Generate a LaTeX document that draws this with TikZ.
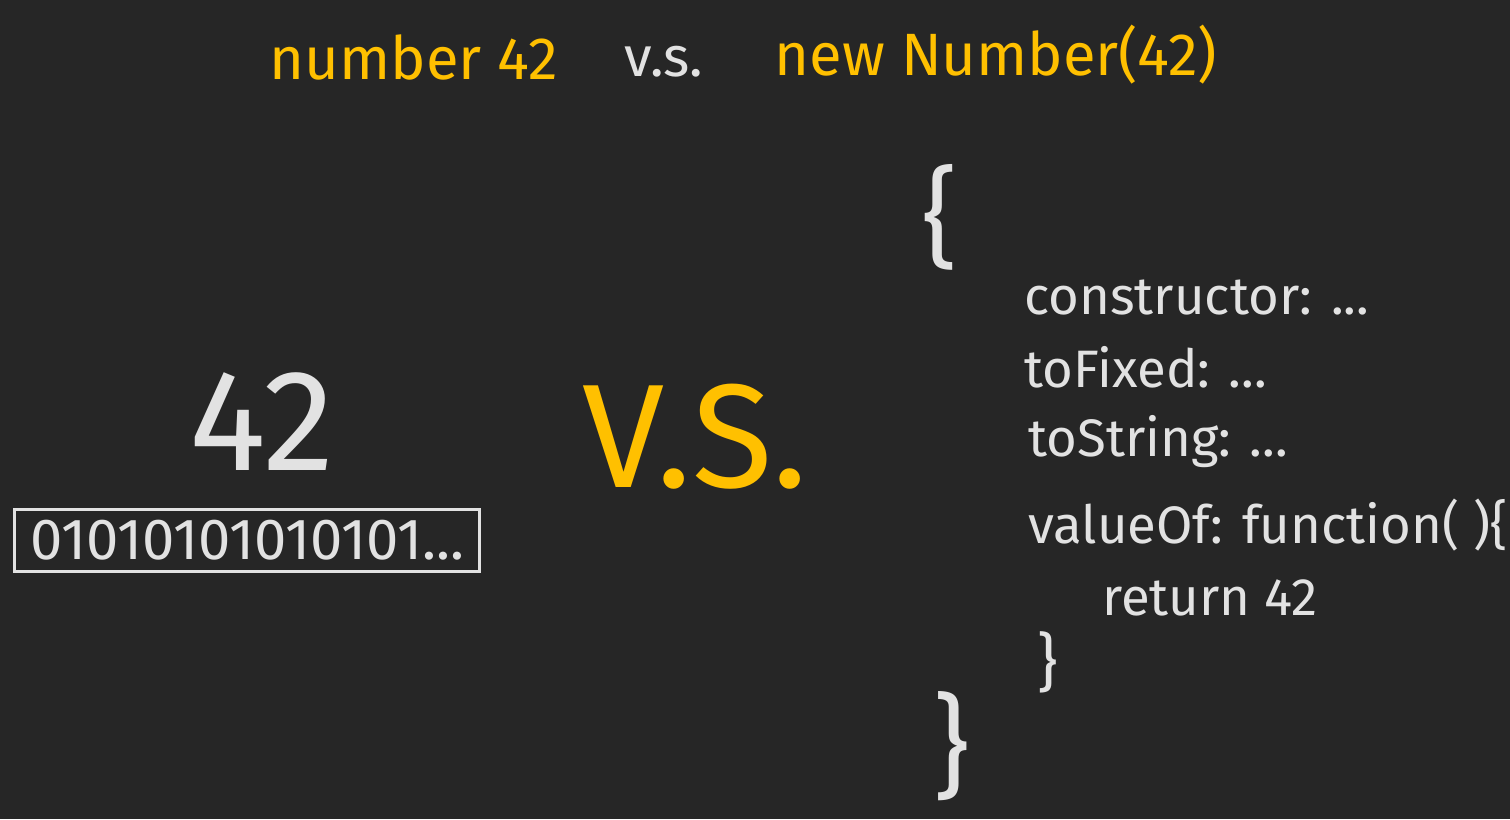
\documentclass[tikz,border=0pt]{standalone}
\usepackage{fontspec}
\setmainfont{Fira Sans}
\usepackage{tikz}
\usetikzlibrary{positioning}
\definecolor{board}{RGB}{38,38,38}
\definecolor{chalk}{RGB}{226,226,226}
\definecolor{marker}{RGB}{255,192,0}
\tikzstyle{heading} = [font=\fontsize{34}{34}\selectfont, text=marker, inner sep=0pt]
\tikzstyle{remark} = [font=\fontsize{32}{32}\selectfont, text=chalk, inner sep=0pt]
\tikzstyle{bignum} = [font=\fontsize{82}{82}\selectfont, text=chalk, inner sep=0pt]
\tikzstyle{bigvs} = [font=\fontsize{84}{84}\selectfont, text=marker, inner sep=0pt]
\tikzstyle{bitbox} = [font=\fontsize{33}{33}\selectfont, text=chalk, draw=chalk, line width=1.7pt, minimum width=9.3cm, minimum height=1.24cm, inner sep=0pt]
\tikzstyle{code} = [font=\fontsize{30}{30}\selectfont, text=chalk, anchor=west, inner sep=0pt]
\tikzstyle{brace} = [text=chalk, inner sep=0pt]

\begin{document}
\begin{tikzpicture}[x=0.02cm, y=-0.02cm]
  \fill[board] (0,0) rectangle (1510,819);
  \useasboundingbox (0,0) rectangle (1510,819);
  % title line
  \node (num title) [heading] at (414,57) {number 42};
  \node (vs title) [remark] at (664,62) {v.s.};
  \node (obj title) [heading] at (996,55) {new Number(42)};
  % primitive side
  \node (prim) [bignum] at (262,422) {42};
  \node (bits) [bitbox] at (247,540) {01010101010101...};
  \node (vs big) [bigvs] at (695,437) {V.S.};
  % object side
  \node (open) [brace, font=\fontsize{62}{62}\selectfont] at (940,217) {\{};
  \node (ctor) [code] at (1024,297) {constructor: ...};
  \node (fixed) [code] at (1024,367) {toFixed: ...};
  \node (tostr) [code] at (1028,442) {toString: ...};
  \node (valof) [code] at (1028,525) {valueOf: function( )\{};
  \node (ret) [code] at (1102,598) {return 42};
  \node (inner close) [brace, font=\fontsize{36}{36}\selectfont] at (1048,662) {\}};
  \node (close) [brace, font=\fontsize{64}{64}\selectfont] at (952,746) {\}};
\end{tikzpicture}
\end{document}
